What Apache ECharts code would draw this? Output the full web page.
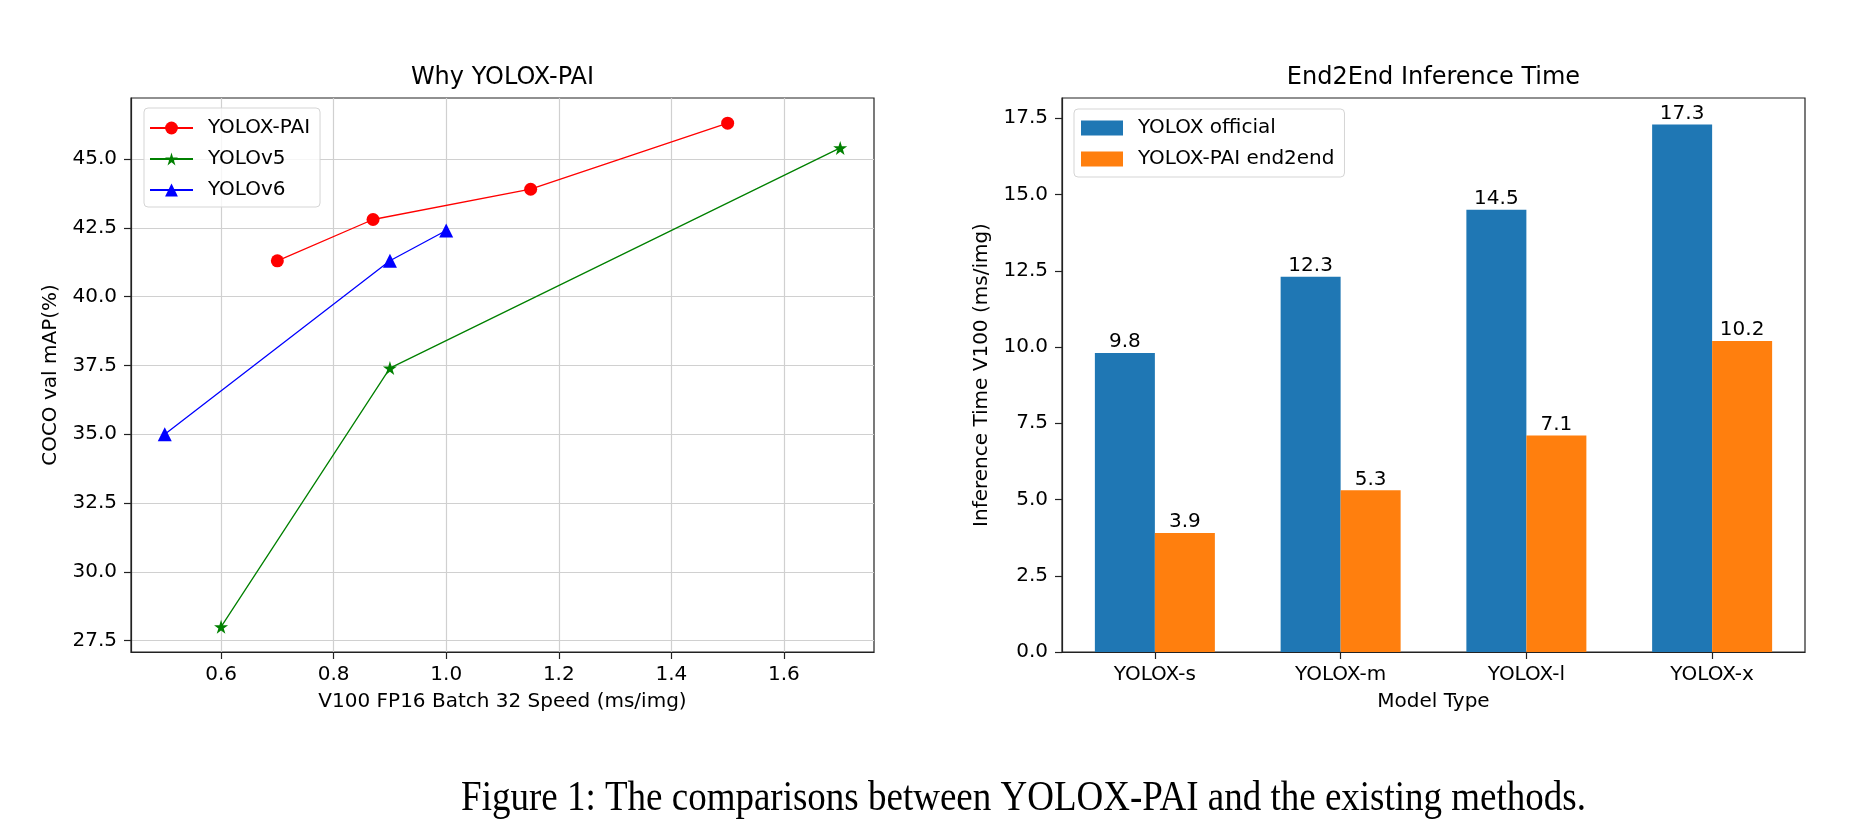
<!DOCTYPE html>
<html>
<head>
<meta charset="utf-8">
<script src="https://cdn.jsdelivr.net/npm/echarts@6/dist/echarts.min.js"></script>
<style>
  html, body { margin: 0; padding: 0; background: #fff; }
  #chart { width: 1869px; height: 828px; }
</style>
</head>
<body>
<div id="chart"></div>
<script>
// ---- Left chart data ----
const paiX = [0.7, 0.87, 1.15, 1.5];
const paiY = [41.3, 42.8, 43.9, 46.3];
const v5X = [0.6, 0.9, 1.7];
const v5Y = [28.0, 37.4, 45.4];
const v6X = [0.5, 0.9, 1.0];
const v6Y = [35.0, 41.3, 42.4];
const leftXTicks = [0.6, 0.8, 1.0, 1.2, 1.4, 1.6];
const leftYTicks = [27.5, 30.0, 32.5, 35.0, 37.5, 40.0, 42.5, 45.0];

// ---- Right chart data ----
const models = ['YOLOX-s', 'YOLOX-m', 'YOLOX-l', 'YOLOX-x'];
const officialTime = [9.8, 12.3, 14.5, 17.3];
const paiTime = [3.9, 5.3, 7.1, 10.2];
const rightYTicks = [0.0, 2.5, 5.0, 7.5, 10.0, 12.5, 15.0, 17.5];

const FONT = 'DejaVu Sans';
const zip = (xs, ys) => xs.map((x, i) => [x, ys[i]]);
const fmt1 = v => Number(v).toFixed(1);
const STAR = 'path://M50,0 L61.2,34.5 L97.6,34.5 L68.2,55.9 L79.4,90.5 L50,69.1 L20.6,90.5 L31.8,55.9 L2.4,34.5 L38.8,34.5 Z';

const axisCommon = {
  axisLine: { show: true, onZero: false, lineStyle: { color: '#222', width: 1.2 } },
  nameTextStyle: { fontFamily: FONT, fontSize: 20, color: '#000' },
};

const chart = echarts.init(document.getElementById('chart'));
chart.setOption({
  animation: false,
  backgroundColor: '#fff',
  grid: [
    { left: 131, top: 98, width: 743, height: 554, show: true, borderColor: '#222', borderWidth: 1.2, backgroundColor: 'transparent' },
    { left: 1062, top: 98, width: 743, height: 554, show: true, borderColor: '#222', borderWidth: 1.2, backgroundColor: 'transparent' }
  ],
  xAxis: [
    Object.assign({}, axisCommon, {
      type: 'value', gridIndex: 0, min: 0.44, max: 1.76,
      axisTick: { show: true, length: 7, lineStyle: { color: '#222', width: 1.2 }, customValues: leftXTicks },
      axisLabel: { customValues: leftXTicks, formatter: fmt1, margin: 13, fontFamily: FONT, fontSize: 20, color: '#000' },
      splitLine: { show: true, lineStyle: { color: '#d0d0d0', width: 1.2 } },
      name: 'V100 FP16 Batch 32 Speed (ms/img)', nameLocation: 'middle', nameGap: 40
    }),
    Object.assign({}, axisCommon, {
      type: 'category', gridIndex: 1, data: models,
      axisTick: { show: true, alignWithLabel: true, length: 7, lineStyle: { color: '#222', width: 1.2 } },
      axisLabel: { margin: 13, fontFamily: FONT, fontSize: 20, color: '#000' },
      splitLine: { show: false },
      name: 'Model Type', nameLocation: 'middle', nameGap: 40
    })
  ],
  yAxis: [
    Object.assign({}, axisCommon, {
      type: 'value', gridIndex: 0, min: 27.085, max: 47.215,
      axisTick: { show: true, length: 7, lineStyle: { color: '#222', width: 1.2 }, customValues: leftYTicks },
      axisLabel: { customValues: leftYTicks, formatter: fmt1, margin: 14, fontFamily: FONT, fontSize: 20, color: '#000' },
      splitLine: { show: true, lineStyle: { color: '#d0d0d0', width: 1.2 } },
      name: 'COCO val mAP(%)', nameLocation: 'middle', nameGap: 70, nameRotate: 90
    }),
    Object.assign({}, axisCommon, {
      type: 'value', gridIndex: 1, min: 0, max: 18.165,
      axisTick: { show: true, length: 7, lineStyle: { color: '#222', width: 1.2 }, customValues: rightYTicks },
      axisLabel: { customValues: rightYTicks, formatter: fmt1, margin: 14, fontFamily: FONT, fontSize: 20, color: '#000' },
      splitLine: { show: false },
      name: 'Inference Time V100 (ms/img)', nameLocation: 'middle', nameGap: 70, nameRotate: 90
    })
  ],
  legend: [
    {
      data: ['YOLOX-PAI', 'YOLOv5', 'YOLOv6'],
      orient: 'vertical', left: 144, top: 108, padding: [10, 10, 7, 5],
      itemWidth: 43, itemHeight: 16, itemGap: 11,
      textStyle: { fontFamily: FONT, fontSize: 20, color: '#000', padding: [0, 0, 0, 10] },
      backgroundColor: 'rgba(255,255,255,0.8)', borderColor: '#d5d5d5', borderWidth: 1, borderRadius: 4
    },
    {
      data: ['YOLOX official', 'YOLOX-PAI end2end'],
      orient: 'vertical', left: 1074, top: 109, padding: [9, 10, 8, 7],
      itemWidth: 42, itemHeight: 15, itemGap: 11, icon: 'rect',
      textStyle: { fontFamily: FONT, fontSize: 20, color: '#000', padding: [0, 0, 0, 10] },
      backgroundColor: 'rgba(255,255,255,0.8)', borderColor: '#d5d5d5', borderWidth: 1, borderRadius: 4
    }
  ],
  series: [
    { name: 'YOLOX-PAI', type: 'line', xAxisIndex: 0, yAxisIndex: 0, data: zip(paiX, paiY),
      symbol: 'circle', symbolSize: 13, lineStyle: { color: '#ff0000', width: 1.3 }, itemStyle: { color: '#ff0000' } },
    { name: 'YOLOv5', type: 'line', xAxisIndex: 0, yAxisIndex: 0, data: zip(v5X, v5Y),
      symbol: STAR, symbolSize: 14, lineStyle: { color: '#008000', width: 1.3 }, itemStyle: { color: '#008000' } },
    { name: 'YOLOv6', type: 'line', xAxisIndex: 0, yAxisIndex: 0, data: zip(v6X, v6Y),
      symbol: 'triangle', symbolSize: 14, lineStyle: { color: '#0000ff', width: 1.3 }, itemStyle: { color: '#0000ff' } },
    { name: 'YOLOX official', type: 'bar', xAxisIndex: 1, yAxisIndex: 1, data: officialTime,
      barWidth: 60, barGap: '0%', itemStyle: { color: '#1f77b4' },
      label: { show: true, position: 'top', distance: 1, fontFamily: FONT, fontSize: 20, color: '#000', formatter: p => fmt1(p.value) } },
    { name: 'YOLOX-PAI end2end', type: 'bar', xAxisIndex: 1, yAxisIndex: 1, data: paiTime,
      barWidth: 60, barGap: '0%', itemStyle: { color: '#ff7f0e' },
      label: { show: true, position: 'top', distance: 1, fontFamily: FONT, fontSize: 20, color: '#000', formatter: p => fmt1(p.value) } }
  ],
  graphic: [
    { type: 'text', x: 502.5, y: 78, style: { text: 'Why YOLOX-PAI', font: '24px "DejaVu Sans"', fill: '#000', textAlign: 'center', textVerticalAlign: 'middle' } },
    { type: 'text', x: 1433.5, y: 78, style: { text: 'End2End Inference Time', font: '24px "DejaVu Sans"', fill: '#000', textAlign: 'center', textVerticalAlign: 'middle' } },
    { type: 'text', x: 1023.5, y: 799, scaleY: 1.15, style: { text: 'Figure 1: The comparisons between YOLOX-PAI and the existing methods.', font: '37px "Liberation Serif"', fill: '#000', textAlign: 'center', textVerticalAlign: 'middle' } }
  ]
});
</script>
</body>
</html>
